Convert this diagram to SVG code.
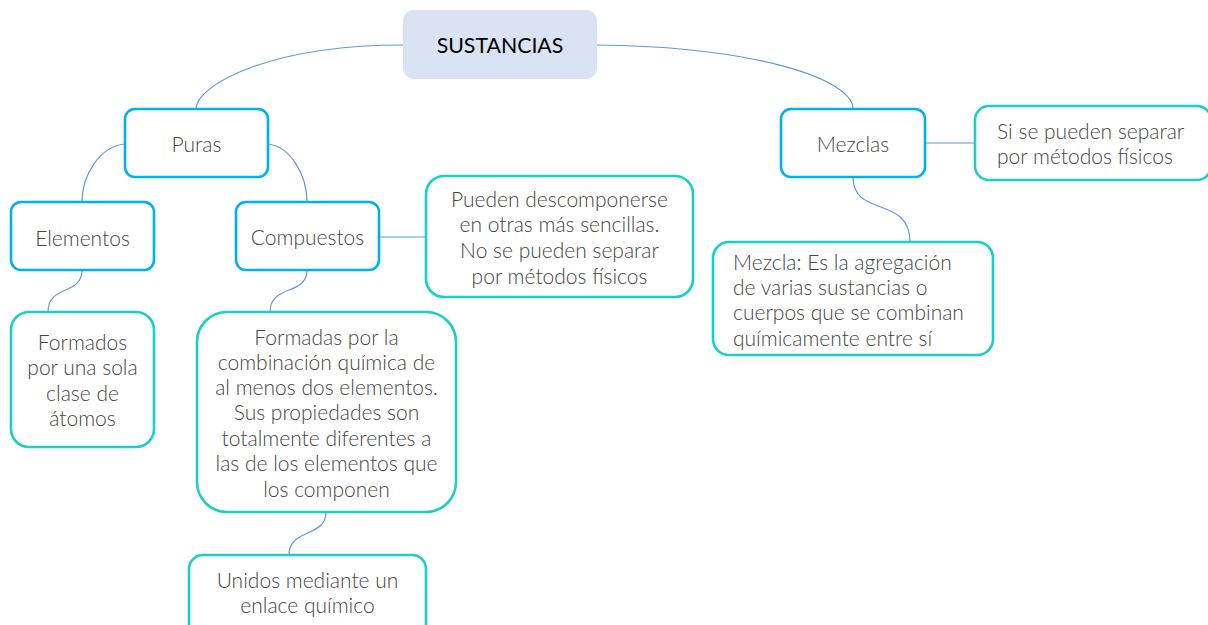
<svg xmlns="http://www.w3.org/2000/svg" width="1208" height="625" viewBox="0 0 1208 625">
<style>
.t{font-family:Lato,"Open Sans","Liberation Sans",sans-serif;font-weight:300;font-size:21px;fill:#454545}
.c{text-anchor:middle}
.mid{stroke:#00b0f0;stroke-width:2.6;fill:#fff}
.leaf{stroke:#1ccfc6;stroke-width:2.6;fill:#fff}
.ln{stroke:#5b9bd5;stroke-width:1.2;fill:none}
</style>
<rect width="1208" height="625" fill="#fff"/>
<g id="connectors">
<path class="ln" d="M403,45 C270,45 196,85 196,109"/>
<path class="ln" d="M597,45 C760,47 853,80 853,109"/>
<path class="ln" d="M125,144 C100,146 82,175 82,202"/>
<path class="ln" d="M268,144 C290,146 307,175 307,202"/>
<path class="ln" d="M82,270 C82,296 48,284 48,312"/>
<path class="ln" d="M307,270 C307,296 270,284 270,312"/>
<path class="ln" d="M326,512 C326,538 289,528 289,555"/>
<path class="ln" d="M853,177 C853,218 910,195 910,242"/>
<path class="ln" d="M379,237 H426"/>
<path class="ln" d="M925,143 H975"/>
</g>
<g id="sustancias">
<rect x="403" y="10" width="194" height="69" rx="11" fill="#dae3f3"/>
<text class="t c" x="500" y="52.5" style="font-weight:400;fill:#000;font-size:21.3px">SUSTANCIAS</text>
</g>
<g id="puras">
<rect class="mid" x="125" y="109" width="143" height="68" rx="10"/>
<text class="t c" x="196.5" y="151.5">Puras</text>
</g>
<g id="mezclas">
<rect class="mid" x="781" y="109" width="144" height="68" rx="10"/>
<text class="t c" x="853" y="151.5">Mezclas</text>
</g>
<g id="elementos">
<rect class="mid" x="11" y="202" width="143" height="68" rx="10"/>
<text class="t c" x="82.5" y="245.5">Elementos</text>
</g>
<g id="compuestos">
<rect class="mid" x="236" y="202" width="143" height="68" rx="10"/>
<text class="t c" x="307.5" y="244.5">Compuestos</text>
</g>
<g id="pueden">
<rect class="leaf" x="426" y="176" width="267" height="121" rx="18"/>
<text class="t c" x="559.5" y="206.5">Pueden descomponerse</text>
<text class="t c" x="559.5" y="231.5">en otras más sencillas.</text>
<text class="t c" x="559.5" y="257.5">No se pueden separar</text>
<text class="t c" x="559.5" y="283.5">por métodos físicos</text>
</g>
<g id="si-separar">
<rect class="leaf" x="975" y="106" width="236" height="74" rx="14"/>
<text class="t" x="997" y="138.5">Si se pueden separar</text>
<text class="t" x="997" y="163.5">por métodos físicos</text>
</g>
<g id="mezcla-def">
<rect class="leaf" x="713" y="242" width="280" height="113" rx="16"/>
<text class="t" x="733" y="269.5">Mezcla: Es la agregación</text>
<text class="t" x="733" y="294.5">de varias sustancias o</text>
<text class="t" x="733" y="319.5">cuerpos que se combinan</text>
<text class="t" x="733" y="345.5">químicamente entre sí</text>
</g>
<g id="formados">
<rect class="leaf" x="11" y="312" width="143" height="135" rx="18"/>
<text class="t c" x="82.5" y="349.5">Formados</text>
<text class="t c" x="82.5" y="374.5">por una sola</text>
<text class="t c" x="82.5" y="400.5">clase de</text>
<text class="t c" x="82.5" y="425.5">átomos</text>
</g>
<g id="formadas">
<rect class="leaf" x="197" y="312" width="259" height="200" rx="30"/>
<text class="t c" x="326.5" y="344.5">Formadas por la</text>
<text class="t c" x="326.5" y="369.5">combinación química de</text>
<text class="t c" x="326.5" y="394.5">al menos dos elementos.</text>
<text class="t c" x="326.5" y="419.5">Sus propiedades son</text>
<text class="t c" x="326.5" y="445.5">totalmente diferentes a</text>
<text class="t c" x="326.5" y="470.5">las de los elementos que</text>
<text class="t c" x="326.5" y="496.5">los componen</text>
</g>
<g id="unidos">
<rect class="leaf" x="189" y="555" width="237" height="85" rx="14"/>
<text class="t c" x="307.5" y="587.5">Unidos mediante un</text>
<text class="t c" x="307.5" y="612.5">enlace químico</text>
</g>
</svg>
